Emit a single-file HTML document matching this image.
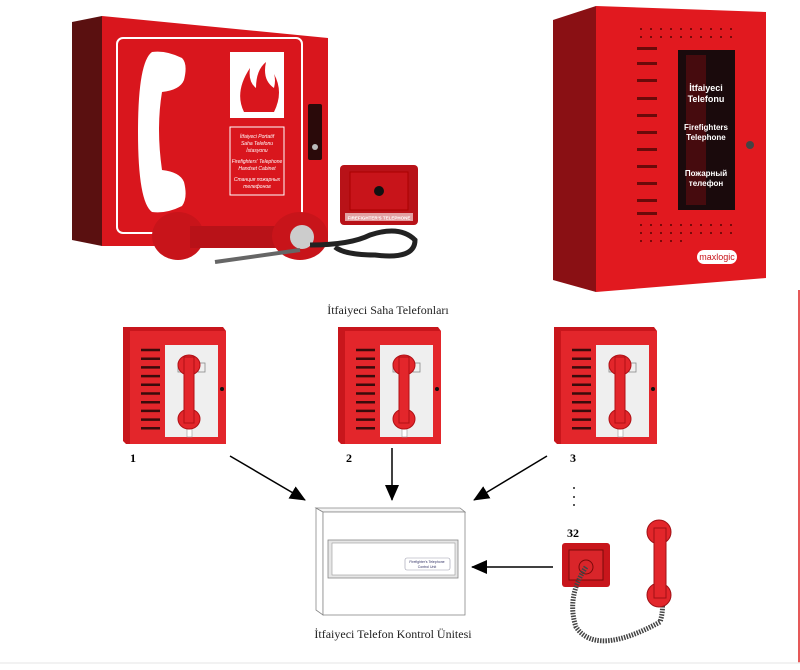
<!DOCTYPE html>
<html><head><meta charset="utf-8"><style>
html,body{margin:0;padding:0;background:#fff;}
svg{display:block;}
text{font-family:"Liberation Sans",sans-serif;}
.serif{font-family:"Liberation Serif",serif;}
</style></head><body>
<svg width="800" height="670" viewBox="0 0 800 670" xmlns="http://www.w3.org/2000/svg">
<defs>
<g id="box">
  <polygon points="0,0 100,0 103,4 103,117 3,117 0,114" fill="#c8161c"/>
  <rect x="7" y="4" width="96" height="113" fill="#e3262b"/>
  <rect x="42" y="18" width="53" height="92" fill="#efefef"/>
  <g stroke="#3a0b0b" stroke-width="2.5">
    <line x1="18" y1="23" x2="37" y2="23"/><line x1="18" y1="31.7" x2="37" y2="31.7"/>
    <line x1="18" y1="40.4" x2="37" y2="40.4"/><line x1="18" y1="49.1" x2="37" y2="49.1"/>
    <line x1="18" y1="57.8" x2="37" y2="57.8"/><line x1="18" y1="66.5" x2="37" y2="66.5"/>
    <line x1="18" y1="75.2" x2="37" y2="75.2"/><line x1="18" y1="83.9" x2="37" y2="83.9"/>
    <line x1="18" y1="92.6" x2="37" y2="92.6"/><line x1="18" y1="101.3" x2="37" y2="101.3"/>
  </g>
  <rect x="55" y="36" width="7" height="9" fill="none" stroke="#888" stroke-width="0.8"/>
  <rect x="75" y="36" width="7" height="9" fill="none" stroke="#888" stroke-width="0.8"/>
  <rect x="64" y="95" width="5" height="15" fill="#fff" stroke="#999" stroke-width="0.6"/>
  <ellipse cx="66" cy="38" rx="11" ry="10" fill="#e3262b" stroke="#b01015"/>
  <ellipse cx="66" cy="92" rx="11" ry="10" fill="#e3262b" stroke="#b01015"/>
  <rect x="61" y="30" width="10" height="66" fill="#e3262b" stroke="#b01015"/>
  <circle cx="99" cy="62" r="2" fill="#111"/>
</g>
<marker id="ah" markerWidth="16" markerHeight="14" refX="15" refY="7" orient="auto" markerUnits="userSpaceOnUse"><polygon points="0,0 16,7 0,14" fill="#000"/></marker>
</defs>

<!-- top-left cabinet -->
<polygon points="72,22 102,16 102,246 72,240" fill="#5a1010"/>
<polygon points="102,16 328,38 328,246 102,246" fill="#d9161d"/>
<rect x="117" y="38" width="185" height="195" rx="6" fill="none" stroke="#fff" stroke-width="2"/>
<path d="M152,52 q14,-2 30,6 q6,6 2,22 q-4,10 -22,12 q-6,36 0,78 q18,2 22,12 q4,16 -2,24 q-16,8 -30,6 q-14,-10 -14,-80 q0,-70 14,-80z" fill="#fff"/>
<rect x="230" y="52" width="54" height="66" fill="#fff"/>
<path d="M244,112 q-10,-20 6,-44 q-2,14 6,20 q0,-18 10,-26 q-4,18 8,26 q2,-8 0,-14 q10,18 0,38 z" fill="#d9161d"/>
<rect x="230" y="127" width="54" height="68" fill="none" stroke="#fff" stroke-width="1"/>
<text x="257" y="138" font-size="5" fill="#fff" text-anchor="middle" font-style="italic">İtfaiyeci Portatif</text>
<text x="257" y="145" font-size="5" fill="#fff" text-anchor="middle" font-style="italic">Saha Telefonu</text>
<text x="257" y="152" font-size="5" fill="#fff" text-anchor="middle" font-style="italic">İstasyonu</text>
<text x="257" y="163" font-size="5" fill="#fff" text-anchor="middle" font-style="italic">Firefighters' Telephone</text>
<text x="257" y="170" font-size="5" fill="#fff" text-anchor="middle" font-style="italic">Handset Cabinet</text>
<text x="257" y="181" font-size="5" fill="#fff" text-anchor="middle" font-style="italic">Станция пожарных</text>
<text x="257" y="188" font-size="5" fill="#fff" text-anchor="middle" font-style="italic">телефонов</text>
<rect x="308" y="104" width="14" height="56" rx="2" fill="#2a0a0a"/>
<circle cx="315" cy="147" r="3" fill="#bbb"/>
<!-- handset on bottom -->
<ellipse cx="178" cy="236" rx="26" ry="24" fill="#c8141a"/>
<rect x="190" y="226" width="110" height="22" fill="#b81218"/>
<ellipse cx="300" cy="236" rx="28" ry="24" fill="#c8141a"/>
<circle cx="302" cy="237" r="12" fill="#ccc"/>
<line x1="215" y1="262" x2="300" y2="250" stroke="#666" stroke-width="4"/>
<path d="M310,245 q40,0 60,-10 q30,-10 45,5 q0,20 -40,15 q-30,0 -40,-8" fill="none" stroke="#222" stroke-width="5"/>
<!-- small device -->
<rect x="340" y="165" width="78" height="60" rx="4" fill="#b81218"/>
<rect x="350" y="172" width="58" height="38" fill="#c8141a" stroke="#a00" />
<circle cx="379" cy="191" r="5" fill="#111"/>
<rect x="345" y="213" width="68" height="8" fill="#fff" opacity="0.6"/>
<text x="379" y="219.5" font-size="4.5" fill="#fff" text-anchor="middle" font-weight="bold">FIREFIGHTER'S TELEPHONE</text>

<!-- top-right cabinet -->
<polygon points="553,20 596,6 596,292 553,280" fill="#8a1014"/>
<polygon points="596,6 766,12 766,278 596,292" fill="#e1191f"/>
<g fill="#6a0a0a">
<rect x="637" y="47" width="20" height="3"/><rect x="637" y="62" width="20" height="3"/><rect x="637" y="79" width="20" height="3"/>
<rect x="637" y="97" width="20" height="3"/><rect x="637" y="114" width="20" height="3"/><rect x="637" y="131" width="20" height="3"/>
<rect x="637" y="148" width="20" height="3"/><rect x="637" y="165" width="20" height="3"/><rect x="637" y="182" width="20" height="3"/>
<rect x="637" y="199" width="20" height="3"/><rect x="637" y="212" width="20" height="3"/>
</g>
<g fill="#7a0a0a" stroke="#7a0a0a" stroke-width="2" stroke-dasharray="2 8">
<line x1="640" y1="29" x2="740" y2="29"/><line x1="640" y1="37" x2="740" y2="37"/>
<line x1="640" y1="225" x2="740" y2="225"/><line x1="640" y1="233" x2="740" y2="233"/><line x1="640" y1="241" x2="690" y2="241"/>
</g>
<rect x="678" y="50" width="57" height="160" fill="#1a0a0c"/>
<rect x="686" y="55" width="20" height="150" fill="#5a0c10" opacity="0.7"/>
<text x="706" y="91" font-size="9" fill="#fff" text-anchor="middle" font-weight="bold">İtfaiyeci</text>
<text x="706" y="102" font-size="9" fill="#fff" text-anchor="middle" font-weight="bold">Telefonu</text>
<text x="706" y="130" font-size="8" fill="#fff" text-anchor="middle" font-weight="bold">Firefighters</text>
<text x="706" y="140" font-size="8" fill="#fff" text-anchor="middle" font-weight="bold">Telephone</text>
<text x="706" y="176" font-size="8" fill="#fff" text-anchor="middle" font-weight="bold">Пожарный</text>
<text x="706" y="186" font-size="8" fill="#fff" text-anchor="middle" font-weight="bold">телефон</text>
<circle cx="750" cy="145" r="4" fill="#444"/>
<rect x="697" y="250" width="40" height="14" rx="7" fill="#fff"/>
<text x="717" y="260" font-size="9" fill="#c8141a" text-anchor="middle">maxlogic</text>

<!-- right border line -->
<line x1="799" y1="290" x2="799" y2="663" stroke="#d22" stroke-width="1.5"/>
<line x1="0" y1="663" x2="800" y2="663" stroke="#eee" stroke-width="1.5"/>

<!-- diagram -->
<text x="388" y="314" class="serif" font-size="12" text-anchor="middle" fill="#222">İtfaiyeci Saha Telefonları</text>
<use href="#box" x="123" y="327"/>
<use href="#box" x="338" y="327"/>
<use href="#box" x="554" y="327"/>
<text x="130" y="462" class="serif" font-size="12" font-weight="bold">1</text>
<text x="346" y="462" class="serif" font-size="12" font-weight="bold">2</text>
<text x="570" y="462" class="serif" font-size="12" font-weight="bold">3</text>
<g fill="#222"><circle cx="574" cy="488" r="1"/><circle cx="574" cy="497" r="1"/><circle cx="574" cy="505" r="1"/></g>
<text x="567" y="537" class="serif" font-size="12" font-weight="bold">32</text>

<g stroke="#000" stroke-width="1.5">
<line x1="230" y1="456" x2="305" y2="500" marker-end="url(#ah)"/>
<line x1="392" y1="448" x2="392" y2="500" marker-end="url(#ah)"/>
<line x1="547" y1="456" x2="474" y2="500" marker-end="url(#ah)"/>
<line x1="553" y1="567" x2="472" y2="567" marker-end="url(#ah)"/>
</g>

<!-- control unit -->
<polygon points="316,508 323,512 323,615 316,610" fill="#fff" stroke="#888" stroke-width="0.8"/>
<polygon points="316,508 460,508 465,512 323,512" fill="#f4f4f4" stroke="#888" stroke-width="0.8"/>
<rect x="323" y="512" width="142" height="103" fill="#fff" stroke="#888" stroke-width="0.8"/>
<rect x="328" y="540" width="130" height="38" fill="#e6e6e6" stroke="#888" stroke-width="0.8"/>
<rect x="332" y="543" width="123" height="32" fill="#fff" stroke="#999" stroke-width="0.6"/>
<rect x="405" y="558" width="45" height="12" rx="2" fill="#fff" stroke="#99a" stroke-width="0.6"/>
<text x="427" y="563" font-size="3.5" fill="#336" text-anchor="middle">Firefighter's Telephone</text>
<text x="427" y="568" font-size="3.5" fill="#336" text-anchor="middle">Control Unit</text>
<text x="393" y="638" class="serif" font-size="12" text-anchor="middle" fill="#222">İtfaiyeci Telefon Kontrol Ünitesi</text>

<!-- phone 32 -->
<rect x="562" y="543" width="48" height="44" rx="3" fill="#c8161c"/>
<rect x="569" y="550" width="34" height="30" fill="#d9252a" stroke="#7a0a0a" stroke-width="1"/>
<circle cx="586" cy="567" r="7" fill="#d9252a" stroke="#7a0a0a"/>
<path d="M586,567 q-20,30 -10,60 q20,30 84,-5 q5,-15 0,-32" fill="none" stroke="#444" stroke-width="5" stroke-dasharray="1.5 1.2"/>
<line x1="660" y1="590" x2="660" y2="605" stroke="#111" stroke-width="2"/>
<ellipse cx="659" cy="532" rx="12" ry="12" fill="#e3262b" stroke="#a01015"/>
<ellipse cx="659" cy="595" rx="12" ry="12" fill="#e3262b" stroke="#a01015"/>
<rect x="654" y="528" width="12" height="70" fill="#e3262b" stroke="#a01015"/>
</svg>
</body></html>
